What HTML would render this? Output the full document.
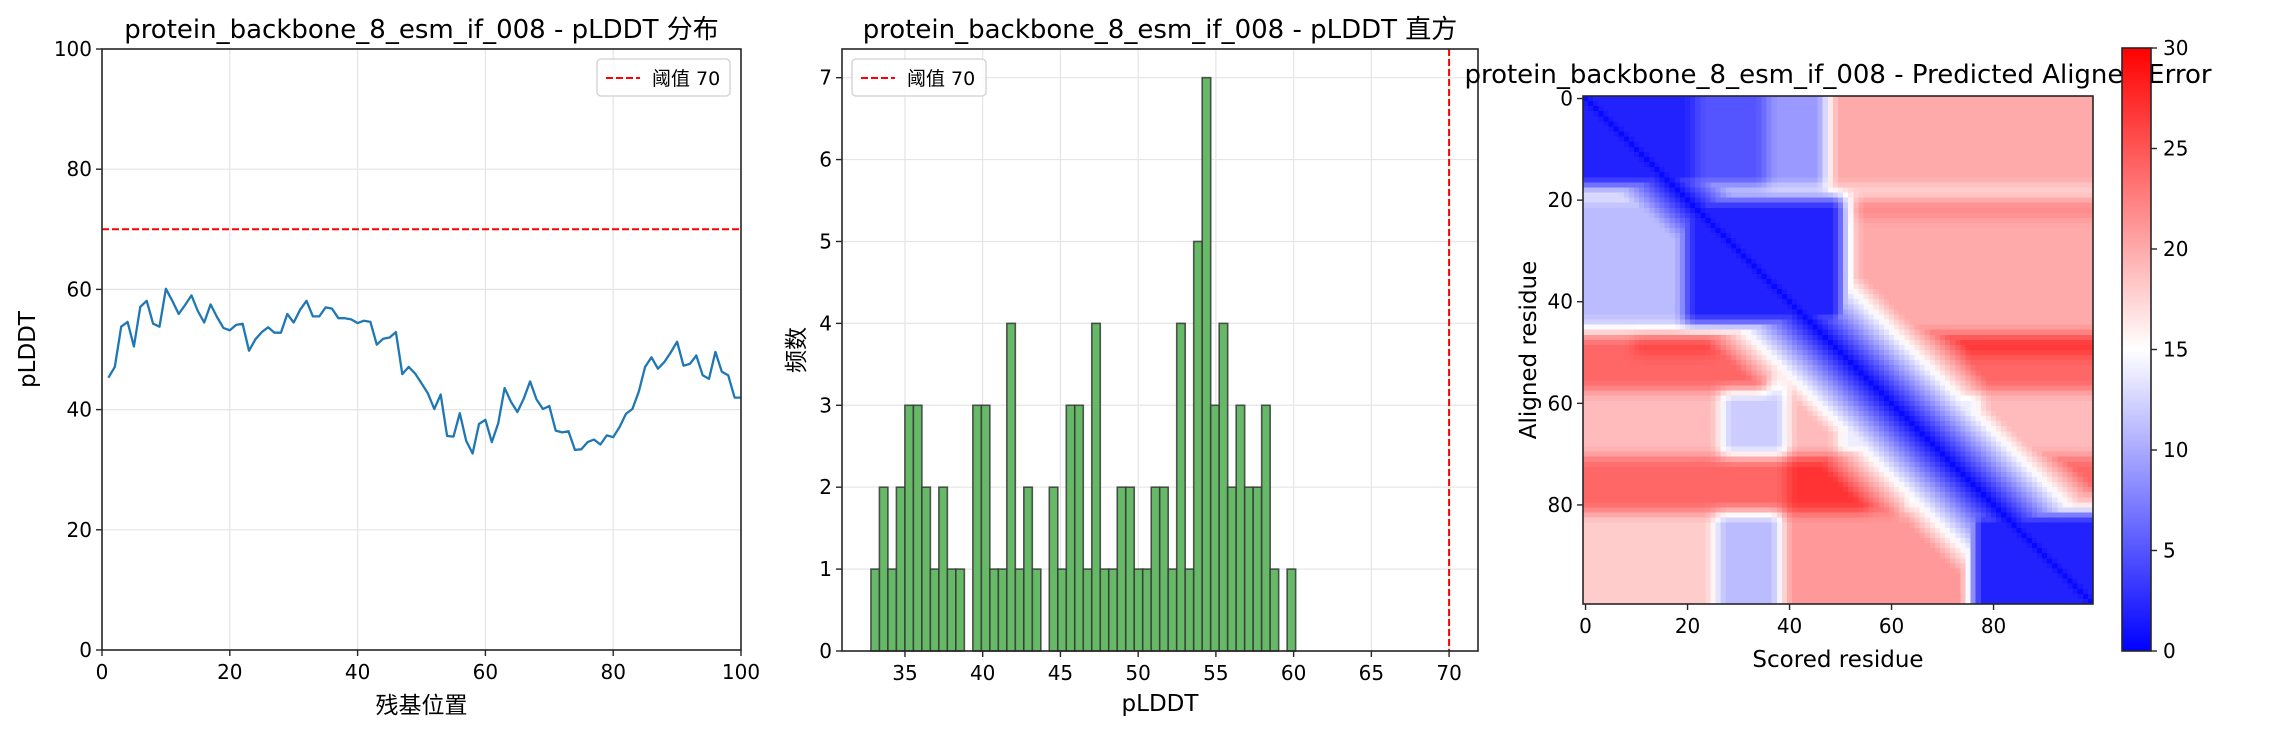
<!DOCTYPE html>
<html><head><meta charset="utf-8"><style>
html,body{margin:0;padding:0;background:#fff;}
svg{display:block;font-family:"DejaVu Sans","Liberation Sans","Noto Sans CJK SC",sans-serif;}
</style></head><body>
<svg id="fig" width="2270" height="730" viewBox="0 0 2270 730" xmlns="http://www.w3.org/2000/svg">
<rect width="2270" height="730" fill="#fff"/>
<g id="c1"></g>
<g id="c2"></g>
<g id="c3"></g>
</svg>
<script>
// ---- chart 1 data ----
const residueIdx = [];
for (let i = 1; i <= 100; i++) residueIdx.push(i);
const plddtValues = [45.3,47.1,53.8,54.6,50.5,57.1,58.1,54.3,53.8,60.1,58.1,55.9,57.4,59.0,56.4,54.5,57.5,55.4,53.6,53.2,
54.1,54.3,49.8,51.7,52.9,53.7,52.8,52.8,55.9,54.5,56.6,58.1,55.5,55.5,57.0,56.8,55.2,55.2,55.0,54.4,
54.8,54.6,50.8,51.8,52.0,52.9,45.9,47.1,46.0,44.4,42.7,40.1,42.5,35.6,35.5,39.4,34.8,32.7,37.6,38.3,
34.6,37.7,43.6,41.3,39.6,41.8,44.7,41.7,40.1,40.6,36.5,36.2,36.4,33.3,33.4,34.6,35.0,34.2,35.7,35.4,
37.1,39.3,40.1,43.0,47.1,48.7,46.8,47.9,49.5,51.3,47.3,47.6,49.0,45.7,45.1,49.6,46.3,45.7,42.0,42.0];
const lineXTicks = [0,20,40,60,80,100];
const lineYTicks = [0,20,40,60,80,100];
const threshold = 70;
// ---- chart 2 data ----
const histCounts = [1,2,1,2,3,3,2,1,2,1,1,0,3,3,1,1,4,1,2,1,0,2,1,3,3,1,4,1,1,2,2,1,1,2,2,1,4,1,5,7,3,4,2,3,2,2,3,1,0,1];
const histMin = 32.81, histMax = 60.13;
const histXTicks = [35,40,45,50,55,60,65,70];
const histYTicks = [0,1,2,3,4,5,6,7];
// ---- chart 3 data (block structure of PAE matrix) ----
const paeDefault = 20;
const blkRow0 = [0,0,0,18,20,20,20,20,45,47,47,47,47,47,58,58,58,58,58,71,71,71,71,78,82,82,82,82];
const blkRow1 = [17,17,17,19,44,44,44,23,46,57,50,57,57,50,70,70,70,70,70,81,81,81,77,81,99,99,99,99];
const blkCol0 = [0,22,36,0,0,20,51,53,0,0,10,36,63,63,0,27,40,50,78,0,40,62,80,80,0,26,39,76];
const blkCol1 = [21,35,47,99,19,50,52,99,45,35,25,47,99,99,26,39,49,77,99,61,55,77,99,99,25,38,75,99];
const blkVals = [2,5,9,16,11,2,15,22,15,24,26,16,24,27,19,12,19,14,19,24,27,15,24,18,18,11,21,2];
const cbTicks = [0,5,10,15,20,25,30];
const heatTicks = [0,20,40,60,80];

const NS = "http://www.w3.org/2000/svg";
function mk(parent, tag, attrs, text) {
  const e = document.createElementNS(NS, tag);
  for (const k in attrs) e.setAttribute(k, attrs[k]);
  if (text !== undefined) e.textContent = text;
  parent.appendChild(e);
  return e;
}
const TICKFS = 20, LBLFS = 23, TITFS = 26, AX = "#262626";

// ================= Chart 1 =================
(function(){
  const g = document.getElementById('c1');
  const L=102, R=741, T=49, B=650;
  const sx = v => L + (v-0)/(100-0)*(R-L);
  const sy = v => B - (v-0)/(100-0)*(B-T);
  lineXTicks.forEach(t => {
    const gl = mk(g,'line',{x1:sx(t),x2:sx(t),y1:T,y2:B,stroke:'#e5e5e5','stroke-width':1.2});
     
  });
  lineYTicks.forEach(t => {
    const gl = mk(g,'line',{x1:L,x2:R,y1:sy(t),y2:sy(t),stroke:'#e5e5e5','stroke-width':1.2});
     
  });
  const th = mk(g,'line',{x1:L,x2:R,y1:sy(threshold),y2:sy(threshold),stroke:'#ff0000','stroke-width':2,'stroke-dasharray':'7,3'});
   
  const pts = residueIdx.map((x,i)=>sx(x).toFixed(1)+','+sy(plddtValues[i]).toFixed(1)).join(' ');
  const pl = mk(g,'polyline',{points:pts,fill:'none',stroke:'#1f77b4','stroke-width':2.3,'stroke-linejoin':'round'});
   
  const fr = mk(g,'rect',{x:L,y:T,width:R-L,height:B-T,fill:'none',stroke:AX,'stroke-width':1.6});
   
  lineXTicks.forEach(t => {
    mk(g,'line',{x1:sx(t),x2:sx(t),y1:B,y2:B+6,stroke:AX,'stroke-width':1.4});
    const tl = mk(g,'text',{x:sx(t),y:B+29,'font-size':TICKFS,'text-anchor':'middle',fill:'#000'},String(t));
     
  });
  lineYTicks.forEach(t => {
    mk(g,'line',{x1:L-6,x2:L,y1:sy(t),y2:sy(t),stroke:AX,'stroke-width':1.4});
    const tl = mk(g,'text',{x:L-10,y:sy(t)+7,'font-size':TICKFS,'text-anchor':'end',fill:'#000'},String(t));
     
  });
  const xt = mk(g,'text',{x:(L+R)/2,y:713,'font-size':LBLFS,'text-anchor':'middle'},'残基位置');
   
  const yt = mk(g,'text',{x:0,y:0,'font-size':LBLFS,'text-anchor':'middle',transform:`translate(35,${(T+B)/2}) rotate(-90)`},'pLDDT');
   
  const ti = mk(g,'text',{x:(L+R)/2,y:38,'font-size':TITFS,'text-anchor':'middle'},'protein_backbone_8_esm_if_008 - pLDDT 分布');
   
  const lg = mk(g,'g',{});
   
  mk(lg,'rect',{x:597,y:59,width:133,height:37,rx:4,fill:'#fff','fill-opacity':0.85,stroke:'#d0d0d0','stroke-width':1.3});
  mk(lg,'line',{x1:606,x2:640,y1:78,y2:78,stroke:'#ff0000','stroke-width':2,'stroke-dasharray':'7,3'});
  const lt = mk(lg,'text',{x:652,y:85,'font-size':19},'阈值 70');
   
})();

// ================= Chart 2 =================
(function(){
  const g = document.getElementById('c2');
  const L=842, R=1478, T=49, B=651;
  const xmin=30.95, xmax=71.86, ymax=7.35;
  const sx = v => L + (v-xmin)/(xmax-xmin)*(R-L);
  const sy = v => B - v/ymax*(B-T);
  histXTicks.forEach(t => {
    mk(g,'line',{x1:sx(t),x2:sx(t),y1:T,y2:B,stroke:'#e5e5e5','stroke-width':1.2});
  });
  histYTicks.forEach(t => {
    mk(g,'line',{x1:L,x2:R,y1:sy(t),y2:sy(t),stroke:'#e5e5e5','stroke-width':1.2});
  });
  const w = (histMax-histMin)/histCounts.length;
  histCounts.forEach((c,i) => {
    if (c<=0) return;
    const x0 = sx(histMin+i*w), x1 = sx(histMin+(i+1)*w);
    const b = mk(g,'rect',{x:x0,y:sy(c),width:x1-x0,height:sy(0)-sy(c),fill:'#66b966',stroke:'#383838','stroke-width':1.6,'stroke-opacity':0.85});
     
  });
  const th = mk(g,'line',{x1:sx(threshold),x2:sx(threshold),y1:T,y2:B,stroke:'#ff0000','stroke-width':2,'stroke-dasharray':'7,3'});
   
  const fr = mk(g,'rect',{x:L,y:T,width:R-L,height:B-T,fill:'none',stroke:AX,'stroke-width':1.6});
   
  histXTicks.forEach(t => {
    mk(g,'line',{x1:sx(t),x2:sx(t),y1:B,y2:B+6,stroke:AX,'stroke-width':1.4});
    const tl = mk(g,'text',{x:sx(t),y:B+29,'font-size':TICKFS,'text-anchor':'middle'},String(t));
     
  });
  histYTicks.forEach(t => {
    mk(g,'line',{x1:L-6,x2:L,y1:sy(t),y2:sy(t),stroke:AX,'stroke-width':1.4});
    const tl = mk(g,'text',{x:L-10,y:sy(t)+7,'font-size':TICKFS,'text-anchor':'end'},String(t));
     
  });
  const xt = mk(g,'text',{x:(L+R)/2,y:711,'font-size':LBLFS,'text-anchor':'middle'},'pLDDT');
   
  const yt = mk(g,'text',{x:0,y:0,'font-size':LBLFS,'text-anchor':'middle',transform:`translate(804,${(T+B)/2}) rotate(-90)`},'频数');
   
  const ti = mk(g,'text',{x:(L+R)/2,y:38,'font-size':TITFS,'text-anchor':'middle'},'protein_backbone_8_esm_if_008 - pLDDT 直方');
   
  const lg = mk(g,'g',{});
   
  mk(lg,'rect',{x:852,y:59,width:134,height:37,rx:4,fill:'#fff','fill-opacity':0.85,stroke:'#d0d0d0','stroke-width':1.3});
  mk(lg,'line',{x1:861,x2:895,y1:78,y2:78,stroke:'#ff0000','stroke-width':2,'stroke-dasharray':'7,3'});
  const lt = mk(lg,'text',{x:907,y:85,'font-size':19},'阈值 70');
   
})();

// ================= Chart 3 =================
(function(){
  const g = document.getElementById('c3');
  const L=1583, R=2093, T=96, B=604, N=100;
  const cw=(R-L)/N, ch=(B-T)/N;
  const cx = c => L + (c+0.5)*cw;
  const cy = r => T + (r+0.5)*ch;
  function bwr(v){
    let t = Math.max(0,Math.min(1,v/30)), r,gg,b;
    if (t<0.5){ r=gg=2*t; b=1; } else { r=1; gg=b=2*(1-t); }
    return `rgb(${Math.round(r*255)},${Math.round(gg*255)},${Math.round(b*255)})`;
  }
  // build matrix from blocks
  let M = [];
  for (let i=0;i<N;i++){
    M.push([]);
    for (let j=0;j<N;j++){
      let v = paeDefault;
      for (let k=0;k<blkVals.length;k++){
        if (i>=blkRow0[k] && i<=blkRow1[k] && j>=blkCol0[k] && j<=blkCol1[k]) v = blkVals[k];
      }
      M[i].push(v);
    }
  }
  // soften block edges
  for (let pass=0; pass<2; pass++){
    const S = M.map(r=>r.slice());
    for (let i=0;i<N;i++) for (let j=0;j<N;j++){
      let s=0,n=0;
      for (let di=-1;di<=1;di++) for (let dj=-1;dj<=1;dj++){
        const a=i+di,b=j+dj; if(a<0||b<0||a>=N||b>=N) continue; s+=M[a][b]; n++;
      }
      S[i][j]=s/n;
    }
    M = S;
  }
  const cells = mk(g,'g',{'shape-rendering':'crispEdges'});
   
  for (let i=0;i<N;i++){
    for (let j=0;j<N;j++){
      const v = Math.min(M[i][j], 0.5 + 1.0*Math.abs(i-j));
      const c = mk(cells,'rect',{x:(L+j*cw).toFixed(2),y:(T+i*ch).toFixed(2),width:(cw+0.4).toFixed(2),height:(ch+0.4).toFixed(2),fill:bwr(v)});
      
      
    }
  }
  const fr = mk(g,'rect',{x:L,y:T,width:R-L,height:B-T,fill:'none',stroke:AX,'stroke-width':1.6});
   
  heatTicks.forEach(t => {
    mk(g,'line',{x1:cx(t),x2:cx(t),y1:B,y2:B+6,stroke:AX,'stroke-width':1.4});
    const tl = mk(g,'text',{x:cx(t),y:B+29,'font-size':TICKFS,'text-anchor':'middle'},String(t));
     
    mk(g,'line',{x1:L-6,x2:L,y1:cy(t),y2:cy(t),stroke:AX,'stroke-width':1.4});
    const yl = mk(g,'text',{x:L-10,y:cy(t)+7,'font-size':TICKFS,'text-anchor':'end'},String(t));
     
  });
  const xt = mk(g,'text',{x:(L+R)/2,y:667,'font-size':LBLFS,'text-anchor':'middle'},'Scored residue');
   
  const yt = mk(g,'text',{x:0,y:0,'font-size':LBLFS,'text-anchor':'middle',transform:`translate(1536,${(T+B)/2}) rotate(-90)`},'Aligned residue');
   
  const ti = mk(g,'text',{x:(L+R)/2,y:83,'font-size':TITFS,'text-anchor':'middle'},'protein_backbone_8_esm_if_008 - Predicted Aligned Error');
   
  // colorbar
  const CL=2122, CR=2151, CT=48, CB=651;
  const defs = mk(g,'defs',{});
  const lgd = mk(defs,'linearGradient',{id:'bwr',x1:0,y1:1,x2:0,y2:0});
  mk(lgd,'stop',{offset:'0','stop-color':'#0000ff'});
  mk(lgd,'stop',{offset:'0.5','stop-color':'#ffffff'});
  mk(lgd,'stop',{offset:'1','stop-color':'#ff0000'});
  const cb = mk(g,'rect',{x:CL,y:CT,width:CR-CL,height:CB-CT,fill:'url(#bwr)',stroke:AX,'stroke-width':1.6});
   
  cbTicks.forEach(t => {
    const y = CB - t/30*(CB-CT);
    mk(g,'line',{x1:CR,x2:CR+6,y1:y,y2:y,stroke:AX,'stroke-width':1.4});
    const tl = mk(g,'text',{x:CR+12,y:y+7,'font-size':TICKFS},String(t));
     
  });
})();
</script>
</body></html>
